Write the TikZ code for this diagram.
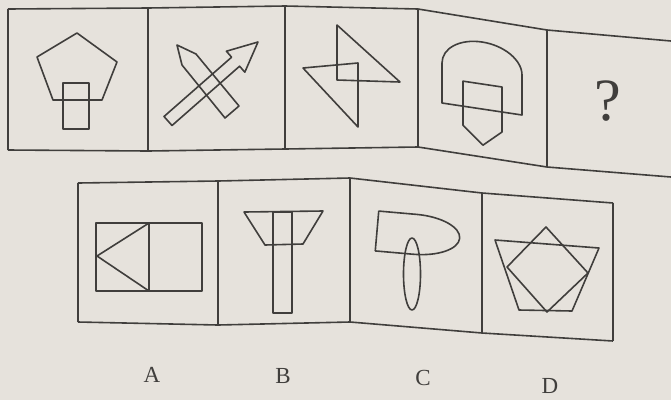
\documentclass[tikz,border=0pt]{standalone}
\usepackage{fontspec}
\setmainfont{Liberation Serif}
\definecolor{PaperTone}{HTML}{E6E2DC}
\definecolor{PrintInk}{HTML}{403E3C}

\begin{document}
\begin{tikzpicture}[x=1pt,y=-1pt,line join=round]
\tikzset{
  frame/.style={draw=PrintInk,line width=1.6pt},
  figure/.style={draw=PrintInk,line width=1.6pt},
  letter/.style={font=\fontsize{23}{25}\selectfont,text=PrintInk},
  query/.style={font=\fontsize{60}{62}\selectfont,text=PrintInk}
}
\fill[PaperTone] (0,0) rectangle (671,400);
\useasboundingbox (0,0) rectangle (671,400);

% question row
\coordinate (qt0) at (8,9);
\coordinate (qt1) at (148,8);
\coordinate (qt2) at (285,6);
\coordinate (qt3) at (418,9);
\coordinate (qt4) at (547,30);
\coordinate (qt5) at (671,41);
\coordinate (qb0) at (8,150);
\coordinate (qb1) at (148,151);
\coordinate (qb2) at (285,149);
\coordinate (qb3) at (418,147);
\coordinate (qb4) at (547,167);
\coordinate (qb5) at (671,177);
\draw[frame] (qt0)--(qt1)--(qt2)--(qt3)--(qt4)--(qt5);
\draw[frame] (qb0)--(qb1)--(qb2)--(qb3)--(qb4)--(qb5);
\draw[frame] (qt0)--(qb0);
\draw[frame] (qt1)--(qb1);
\draw[frame] (qt2)--(qb2);
\draw[frame] (qt3)--(qb3);
\draw[frame] (qt4)--(qb4);

% pentagon and bar
\draw[figure] (77,33)--(117,62)--(102,100)--(53,100)--(37,57)--cycle;
\draw[figure] (63,83) rectangle (89,129);

% pencil and arrow
\draw[figure] (177,45)--(196,54)--(239,106)--(225,118)--(182,65)--cycle;
\draw[figure] (164,116.5)--(231.6,57.2)--(226.4,51.2)--(258,42)--(244.8,72.2)--(239.6,66.2)--(172,125.5)--cycle;

% two triangles
\draw[figure] (337,25)--(400,82)--(337,80)--cycle;
\draw[figure] (303,68)--(358,63)--(358,127)--cycle;

% dome and house
\begin{scope}[shift={(482,0)},yslant=-0.15]
\draw[figure] (-40,109)--(-40,69) arc[start angle=180,end angle=0,x radius=40pt,y radius=27pt]--(40,109)--cycle;
\draw[figure] (-19,128)--(-19,84)--(20,84)--(20,129)--(1,145)--cycle;
\end{scope}

\node[query] (quest) at (608,101) {?};

% answer row
\coordinate (at0) at (78,183);
\coordinate (at1) at (218,181);
\coordinate (at2) at (350,178);
\coordinate (at3) at (482,193);
\coordinate (at4) at (613,203);
\coordinate (ab0) at (78,322);
\coordinate (ab1) at (218,325);
\coordinate (ab2) at (350,322);
\coordinate (ab3) at (482,333);
\coordinate (ab4) at (613,341);
\draw[frame] (at0)--(at1)--(at2)--(at3)--(at4);
\draw[frame] (ab0)--(ab1)--(ab2)--(ab3)--(ab4);
\draw[frame] (at0)--(ab0);
\draw[frame] (at1)--(ab1);
\draw[frame] (at2)--(ab2);
\draw[frame] (at3)--(ab3);
\draw[frame] (at4)--(ab4);

% A
\draw[figure] (96,223) rectangle (202,291);
\draw[figure] (149,223)--(149,291);
\draw[figure] (149,223)--(97,256)--(149,291);

% B
\draw[figure] (244,212)--(323,211)--(303,244)--(265,245)--cycle;
\draw[figure] (273,212) rectangle (292,313);

% C
\begin{scope}[rotate around={-5:(377,231)}]
\draw[figure] (415,211)--(377,211)--(377,251)--(415,251) arc[start angle=-90,end angle=90,x radius=45pt,y radius=20pt];
\end{scope}
\draw[figure] (412,274) ellipse[x radius=8.5pt,y radius=36pt];

% D
\draw[figure] (495,240)--(599,248)--(572,311)--(519,310)--cycle;
\draw[figure] (546,227)--(507,267)--(547,312)--(588,273)--cycle;

\node[letter] (optA) at (152,375) {A};
\node[letter] (optB) at (283,376) {B};
\node[letter] (optC) at (423,378) {C};
\node[letter] (optD) at (550,386) {D};
\end{tikzpicture}
\end{document}
